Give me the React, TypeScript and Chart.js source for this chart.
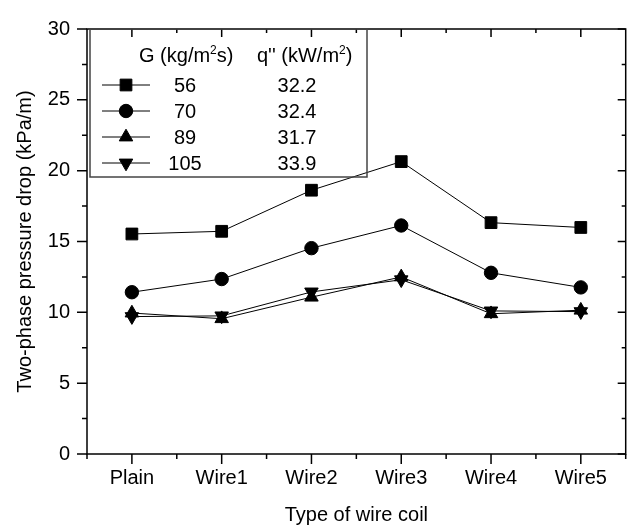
import React, { useEffect, useRef } from 'react';
import { Chart, registerables } from 'chart.js';

Chart.register(...registerables);

const FONT = 'Liberation Sans, Arial, Helvetica, sans-serif';

const categories = ['Plain', 'Wire1', 'Wire2', 'Wire3', 'Wire4', 'Wire5'];
const gValues = ['56', '70', '89', '105'];
const qValues = ['32.2', '32.4', '31.7', '33.9'];
const series56 = [15.53, 15.72, 18.62, 20.64, 16.33, 15.99];
const series70 = [11.42, 12.35, 14.53, 16.13, 12.79, 11.76];
const series89 = [9.95, 9.55, 11.07, 12.5, 9.9, 10.15];
const series105 = [9.7, 9.75, 11.44, 12.3, 10.1, 10.05];
const yMin = 0;
const yMax = 30;
const yStep = 5;
const yMinorStep = 2.5;

const pointStyles = ['rect', 'circle', 'triangle', 'triangle'];
const pointRotations = [0, 0, 0, 180];
const pointRadii = [8.3, 6.7, 7.8, 7.8];

function drawMarker(ctx: CanvasRenderingContext2D, style: string, rotation: number, r: number, x: number, y: number) {
  ctx.beginPath();
  if (style === 'rect') {
    const s = Math.SQRT1_2 * r;
    ctx.rect(x - s, y - s, 2 * s, 2 * s);
  } else if (style === 'circle') {
    ctx.arc(x, y, r, 0, Math.PI * 2);
  } else {
    let rad = (rotation * Math.PI) / 180;
    ctx.moveTo(x + Math.sin(rad) * r, y - Math.cos(rad) * r);
    rad += (2 * Math.PI) / 3;
    ctx.lineTo(x + Math.sin(rad) * r, y - Math.cos(rad) * r);
    rad += (2 * Math.PI) / 3;
    ctx.lineTo(x + Math.sin(rad) * r, y - Math.cos(rad) * r);
    ctx.closePath();
  }
  ctx.fill();
  ctx.stroke();
}

const framePlugin = {
  id: 'frameTicksLegend',
  afterDraw(chart: any) {
    const { ctx, chartArea } = chart;
    const { left, right, top, bottom } = chartArea;
    const x = chart.scales.x;
    const y = chart.scales.y;
    ctx.save();
    ctx.strokeStyle = '#000';
    ctx.lineWidth = 1.5;
    ctx.strokeRect(left, top, right - left, bottom - top);

    ctx.beginPath();
    // x ticks: majors at category centres, minors at boundaries
    for (let i = 0; i < categories.length; i++) {
      const px = x.getPixelForValue(i);
      ctx.moveTo(px, bottom);
      ctx.lineTo(px, bottom + 10);
      ctx.moveTo(px, top);
      ctx.lineTo(px, top + 8);
      if (i > 0) {
        const mx = (x.getPixelForValue(i - 1) + px) / 2;
        ctx.moveTo(mx, bottom);
        ctx.lineTo(mx, bottom + 5);
        ctx.moveTo(mx, top);
        ctx.lineTo(mx, top + 4);
      }
    }
    ctx.moveTo(left, bottom);
    ctx.lineTo(left, bottom + 5);
    ctx.moveTo(right, bottom);
    ctx.lineTo(right, bottom + 5);
    // y ticks
    for (let v = yMin; v <= yMax + 1e-9; v += yMinorStep) {
      const py = y.getPixelForValue(v);
      const major = Math.abs(v / yStep - Math.round(v / yStep)) < 1e-6;
      ctx.moveTo(left - (major ? 10 : 5), py);
      ctx.lineTo(left, py);
      ctx.moveTo(right, py);
      ctx.lineTo(right - (major ? 8 : 4), py);
    }
    ctx.stroke();

    // legend box
    const bx = left + 3;
    const by = top;
    const bw = 277;
    const bh = 148;
    ctx.strokeStyle = '#444';
    ctx.lineWidth = 1.5;
    ctx.strokeRect(bx, by, bw, bh);

    ctx.fillStyle = '#000';
    ctx.textBaseline = 'alphabetic';
    ctx.textAlign = 'left';
    const big = `20px ${FONT}`;
    const sup = `12px ${FONT}`;
    const headY = by + 33;
    // header G (kg/m2s)
    let tx = bx + 49;
    ctx.font = big;
    ctx.fillText('G (kg/m', tx, headY);
    tx += ctx.measureText('G (kg/m').width;
    ctx.font = sup;
    ctx.fillText('2', tx, headY - 8);
    tx += ctx.measureText('2').width;
    ctx.font = big;
    ctx.fillText('s)', tx, headY);
    // header q'' (kW/m2)
    tx = bx + 167;
    ctx.fillText("q'' (kW/m", tx, headY);
    tx += ctx.measureText("q'' (kW/m").width;
    ctx.font = sup;
    ctx.fillText('2', tx, headY - 8);
    tx += ctx.measureText('2').width;
    ctx.font = big;
    ctx.fillText(')', tx, headY);

    ctx.textBaseline = 'middle';
    ctx.textAlign = 'center';
    for (let i = 0; i < gValues.length; i++) {
      const ry = by + 56 + i * 26;
      ctx.strokeStyle = '#000';
      ctx.lineWidth = 1;
      ctx.beginPath();
      ctx.moveTo(bx + 12, ry);
      ctx.lineTo(bx + 60, ry);
      ctx.stroke();
      ctx.fillStyle = '#000';
      drawMarker(ctx, pointStyles[i], pointRotations[i], pointRadii[i], bx + 36, ry);
      ctx.font = big;
      ctx.fillText(gValues[i], bx + 95, ry + 1);
      ctx.fillText(qValues[i], bx + 207, ry + 1);
    }
    ctx.restore();
  },
};

export default function App() {
  const ref = useRef<HTMLCanvasElement | null>(null);
  useEffect(() => {
    if (!ref.current) return;
    const seriesList = [series56, series70, series89, series105];
    const chart = new Chart(ref.current, {
      type: 'line',
      data: {
        labels: categories,
        datasets: seriesList.map((d, i) => ({
          label: gValues[i],
          data: d,
          borderColor: '#000',
          borderWidth: 1,
          backgroundColor: '#000',
          pointStyle: pointStyles[i] as any,
          rotation: pointRotations[i],
          pointRadius: pointRadii[i],
          pointBackgroundColor: '#000',
          pointBorderColor: '#000',
          pointBorderWidth: 1,
          tension: 0,
          fill: false,
        })),
      },
      options: {
        responsive: false,
        animation: false,
        events: [],
        layout: { padding: { top: 17, right: 5, left: 0, bottom: 0 } },
        plugins: { legend: { display: false }, tooltip: { enabled: false } },
        scales: {
          x: {
            type: 'category',
            offset: true,
            grid: { display: false, drawTicks: false },
            border: { display: false },
            ticks: { color: '#000', font: { family: FONT, size: 20 }, padding: 12, maxRotation: 0, autoSkip: false },
            title: { display: true, text: 'Type of wire coil', color: '#000', font: { family: FONT, size: 20 }, padding: { top: 0, bottom: 5 } },
            afterFit: (s: any) => { s.height = 78; },
          },
          y: {
            min: yMin,
            max: yMax,
            grid: { display: false, drawTicks: false },
            border: { display: false },
            ticks: { stepSize: yStep, color: '#000', font: { family: FONT, size: 20 }, padding: 17 },
            title: { display: true, text: 'Two-phase pressure drop (kPa/m)', color: '#000', font: { family: FONT, size: 20 }, padding: { top: 13, bottom: 0 } },
            afterFit: (s: any) => { s.width = 87; },
          },
        },
      },
      plugins: [framePlugin],
    });
    return () => chart.destroy();
  }, []);
  return (
    <div style={{ position: 'fixed', left: 0, top: 0, width: 635, height: 532, background: '#fff' }}>
      <canvas ref={ref} width={635} height={532} style={{ display: 'block', width: 635, height: 532 }} />
    </div>
  );
}
